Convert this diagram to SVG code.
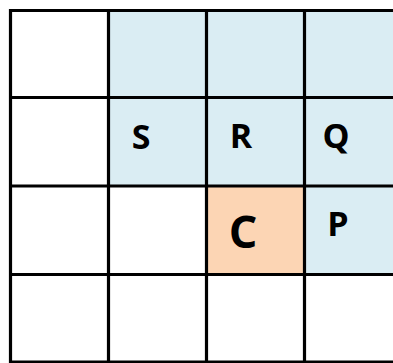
<svg xmlns="http://www.w3.org/2000/svg" width="393" height="363" viewBox="0 0 393 363">
<style>
.blue{fill:#daedf3}
.orange{fill:#fcd5b4}
.grid line{stroke:#000;stroke-width:3.2}
.lbl{font-family:"Open Sans","Liberation Sans",sans-serif;font-weight:bold;fill:#000;text-anchor:middle;font-size:34px}
.big{font-size:45px}
</style>
<rect x="0" y="0" width="393" height="363" fill="#ffffff"/>
<g id="cell-r1">
<rect class="blue" x="108.5" y="10.5" width="285" height="88"/>
</g>
<g id="S">
<rect class="blue" x="108.5" y="97.5" width="98" height="88.5"/>
<text class="lbl" x="141" y="149">S</text>
</g>
<g id="R">
<rect class="blue" x="206.5" y="97.5" width="98" height="88.5"/>
<text class="lbl" x="241" y="148">R</text>
</g>
<g id="Q">
<rect class="blue" x="304.5" y="97.5" width="89" height="88.5"/>
<text class="lbl" x="336" y="148">Q</text>
</g>
<g id="C">
<rect class="orange" x="206.5" y="186" width="98" height="88.5"/>
<text class="lbl big" x="243" y="248">C</text>
</g>
<g id="P">
<rect class="blue" x="304.5" y="186" width="89" height="88.5"/>
<text class="lbl" x="338" y="236">P</text>
</g>
<g id="grid" class="grid">
<line x1="10.5" y1="9" x2="10.5" y2="364"/>
<line x1="108.5" y1="9" x2="108.5" y2="364"/>
<line x1="206.5" y1="9" x2="206.5" y2="364"/>
<line x1="304.5" y1="9" x2="304.5" y2="364"/>
<line x1="9" y1="10.5" x2="393" y2="10.5"/>
<line x1="9" y1="97.5" x2="393" y2="97.5"/>
<line x1="9" y1="186" x2="393" y2="186"/>
<line x1="9" y1="274.5" x2="393" y2="274.5"/>
<line x1="9" y1="362" x2="393" y2="362"/>
</g>
</svg>
